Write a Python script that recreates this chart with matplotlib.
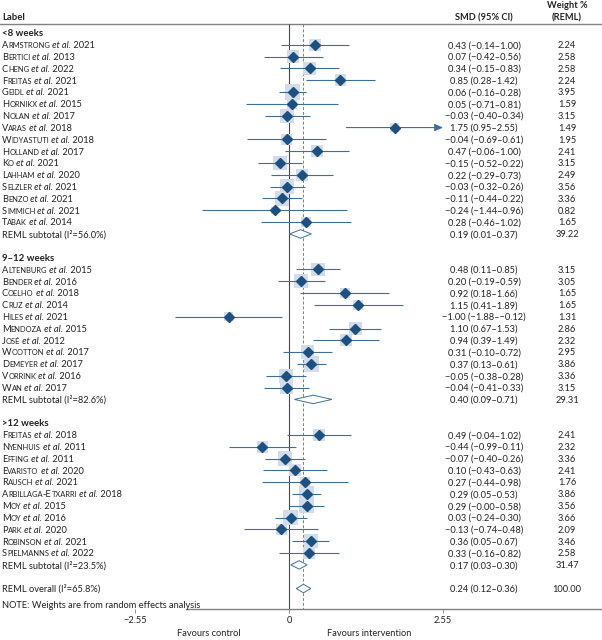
import matplotlib
matplotlib.use('Agg')
import matplotlib.pyplot as plt
from matplotlib.patches import Polygon

plt.rcParams['font.family'] = ['Lato', 'DejaVu Sans']

# ---------------- data ----------------
group_titles = ['<8 weeks', '9–12 weeks', '>12 weeks']

g1_authors = ['Armstrong', 'Bertici', 'Cheng', 'Freitas', 'Geidl', 'Hornikx', 'Nolan', 'Varas',
              'Widyastuti', 'Holland', 'Ko', 'Lahham', 'Selzler', 'Benzo', 'Simmich', 'Tabak']
g1_years = [2021, 2013, 2022, 2021, 2021, 2015, 2017, 2018, 2018, 2017, 2021, 2020, 2021, 2021, 2021, 2014]
g1_smd = [0.43, 0.07, 0.34, 0.85, 0.06, 0.05, -0.03, 1.75, -0.04, 0.47, -0.15, 0.22, -0.03, -0.11, -0.24, 0.28]
g1_lo = [-0.14, -0.42, -0.15, 0.28, -0.16, -0.71, -0.40, 0.95, -0.69, -0.06, -0.52, -0.29, -0.32, -0.44, -1.44, -0.46]
g1_hi = [1.00, 0.56, 0.83, 1.42, 0.28, 0.81, 0.34, 2.55, 0.61, 1.00, 0.22, 0.73, 0.26, 0.22, 0.96, 1.02]
g1_wt = [2.24, 2.58, 2.58, 2.24, 3.95, 1.59, 3.15, 1.49, 1.95, 2.41, 3.15, 2.49, 3.56, 3.36, 0.82, 1.65]

g2_authors = ['Altenburg', 'Bender', 'Coelho', 'Cruz', 'Hiles', 'Mendoza', 'José', 'Wootton',
              'Demeyer', 'Vorrink', 'Wan']
g2_years = [2015, 2016, 2018, 2014, 2021, 2015, 2012, 2017, 2017, 2016, 2017]
g2_smd = [0.48, 0.20, 0.92, 1.15, -1.00, 1.10, 0.94, 0.31, 0.37, -0.05, -0.04]
g2_lo = [0.11, -0.19, 0.18, 0.41, -1.88, 0.67, 0.39, -0.10, 0.13, -0.38, -0.41]
g2_hi = [0.85, 0.59, 1.66, 1.89, -0.12, 1.53, 1.49, 0.72, 0.61, 0.28, 0.33]
g2_wt = [3.15, 3.05, 1.65, 1.65, 1.31, 2.86, 2.32, 2.95, 3.86, 3.36, 3.15]

g3_authors = ['Freitas', 'Nyenhuis', 'Effing', 'Evaristo', 'Rausch', 'Arbillaga-Etxarri', 'Moy', 'Moy',
              'Park', 'Robinson', 'Spielmanns']
g3_years = [2018, 2011, 2011, 2020, 2021, 2018, 2015, 2016, 2020, 2021, 2022]
g3_smd = [0.49, -0.44, -0.07, 0.10, 0.27, 0.29, 0.29, 0.03, -0.13, 0.36, 0.33]
g3_lo = [-0.04, -0.99, -0.40, -0.43, -0.44, 0.05, -0.00, -0.24, -0.74, 0.05, -0.16]
g3_hi = [1.02, 0.11, 0.26, 0.63, 0.98, 0.53, 0.58, 0.30, 0.48, 0.67, 0.82]
g3_wt = [2.41, 2.32, 3.36, 2.41, 1.76, 3.86, 3.56, 3.66, 2.09, 3.46, 2.58]

sub_smd = [0.19, 0.40, 0.17]
sub_lo = [0.01, 0.09, 0.03]
sub_hi = [0.37, 0.71, 0.30]
sub_wt = [39.22, 29.31, 31.47]
sub_i2 = [56.0, 82.6, 23.5]

overall_smd = 0.24
overall_lo = 0.12
overall_hi = 0.36
overall_wt = 100.00
overall_i2 = 65.8

tick_values = [-2.55, 0, 2.55]
tick_labels = ['−2.55', '0', '2.55']
axis_max = 2.55

# ---------------- style / layout ----------------
W, H = 602, 640
FS = 6.7
TXT = '#222222'
SQ = '#d3dcea'
CI = '#3f6f99'
DM = '#1d4f7f'
GRID = '#808080'
RED = '#d0605e'

zero_px, ppu = 289.0, 60.4
row0_px, row_h = 33.0, 11.82

fig = plt.figure(figsize=(W / 100, H / 100), dpi=100)
ax = fig.add_axes([0, 0, 1, 1])
ax.set_xlim(-zero_px / ppu, (W - zero_px) / ppu)
ax.set_ylim((H - row0_px) / row_h, -row0_px / row_h)
for s in ['left', 'right', 'top']:
    ax.spines[s].set_visible(False)
ax.set_yticks([])
ax.patch.set_alpha(0)

ytr = ax.get_yaxis_transform()
LAB_X = 2 / W
SMD_X = 484 / W
WT_X = 567 / W
BL = 0.28  # baseline shift in rows


def fmt(v):
    return f'{v:.2f}'.replace('-', '−')


def smallcaps_pieces(name):
    pieces = []
    for ch in name:
        kind = 'small' if (ch.isalpha() and ch.islower()) else 'big'
        t = ch.upper() if kind == 'small' else ch
        if pieces and pieces[-1][1] == kind:
            pieces[-1][0] += t
        else:
            pieces.append([t, kind])
    return pieces


def draw_label(y, name, year):
    parts = [(p, FS if k == 'big' else FS * 0.8, 'normal') for p, k in smallcaps_pieces(name)]
    parts += [(' et al.', FS, 'italic'), (f' {year}', FS, 'normal')]
    prev = None
    for txt, size, style in parts:
        if prev is None:
            prev = ax.annotate(txt, xy=(LAB_X, y + BL), xycoords=ytr, ha='left', va='baseline',
                               fontsize=size, style=style, color=TXT)
        else:
            prev = ax.annotate(txt, xy=(1, y + BL), xycoords=(prev, ax.transData), ha='left',
                               va='baseline', fontsize=size, style=style, color=TXT)


def col_text(y, smd, lo, hi, wt):
    ax.text(SMD_X, y + BL, f'{fmt(smd)} ({fmt(lo)}–{fmt(hi)})', transform=ytr, ha='center',
            va='baseline', fontsize=FS, color=TXT)
    ax.text(WT_X, y + BL, f'{wt:.2f}', transform=ytr, ha='center', va='baseline',
            fontsize=FS, color=TXT)


def pooled_diamond(y, est, lo, hi):
    h = 0.36
    ax.add_patch(Polygon([(lo, y), (est, y - h), (hi, y), (est, y + h)], closed=True,
                         facecolor='white', edgecolor=CI, lw=0.7, zorder=4))


groups = [
    (g1_authors, g1_years, g1_smd, g1_lo, g1_hi, g1_wt),
    (g2_authors, g2_years, g2_smd, g2_lo, g2_hi, g2_wt),
    (g3_authors, g3_years, g3_smd, g3_lo, g3_hi, g3_wt),
]

row = 0
for gi, (auth, yrs, smd, lo, hi, wt) in enumerate(groups):
    ax.text(LAB_X, row + BL, group_titles[gi], transform=ytr, ha='left', va='baseline',
            fontsize=FS + 0.2, fontweight='bold', color=TXT)
    row += 1
    rows = list(range(row, row + len(auth)))
    for r, a, yv, s, l, h, w in zip(rows, auth, yrs, smd, lo, hi, wt):
        draw_label(r, a, yv)
        col_text(r, s, l, h, w)
        if h >= axis_max:
            ax.annotate('', xy=(h, r), xytext=(l, r), xycoords='data',
                        arrowprops=dict(arrowstyle='-|>,head_length=0.5,head_width=0.22',
                                        color=CI, lw=0.8, shrinkA=0, shrinkB=0), zorder=3)
        else:
            ax.hlines(r, l, h, color=CI, lw=0.8, zorder=3)
    ax.scatter(smd, rows, s=[31 * w for w in wt], marker='s', color=SQ, linewidths=0, zorder=2)
    ax.plot(smd, rows, linestyle='none', marker='D', ms=4.6, color=DM, zorder=5)
    row += len(auth)
    ax.text(LAB_X, row + BL, f'REML subtotal (I²={sub_i2[gi]:.1f}%)', transform=ytr, ha='left',
            va='baseline', fontsize=FS, color=TXT)
    col_text(row, sub_smd[gi], sub_lo[gi], sub_hi[gi], sub_wt[gi])
    pooled_diamond(row, sub_smd[gi], sub_lo[gi], sub_hi[gi])
    row += 2

# overall
ax.text(LAB_X, row + BL, f'REML overall (I²={overall_i2:.1f}%)', transform=ytr, ha='left',
        va='baseline', fontsize=FS, color=TXT)
col_text(row, overall_smd, overall_lo, overall_hi, overall_wt)
pooled_diamond(row, overall_smd, overall_lo, overall_hi)
ax.text(LAB_X, row + 1.4 + BL, 'NOTE: Weights are from random effects analysis', transform=ytr,
        ha='left', va='baseline', fontsize=FS, color=TXT)

# header
head_y = -1.35
ax.text(LAB_X, head_y + BL, 'Label', transform=ytr, ha='left', va='baseline', fontsize=FS + 0.2,
        fontweight='bold', color=TXT)
ax.text(SMD_X, head_y + BL, 'SMD (95% CI)', transform=ytr, ha='center', va='baseline',
        fontsize=FS, fontweight='bold', color=TXT)
ax.text(WT_X, head_y + BL, '(REML)', transform=ytr, ha='center', va='baseline',
        fontsize=FS, fontweight='bold', color=TXT)
ax.text(WT_X, -2.38 + BL, 'Weight %', transform=ytr, ha='center', va='baseline',
        fontsize=FS, fontweight='bold', color=TXT)

top_line = -0.76
axis_y = 48.7
ax.axhline(top_line, color=GRID, lw=1.0, zorder=1)
ax.vlines(0, top_line, axis_y, color='#4a4a4a', lw=0.8, zorder=1)
ax.vlines(overall_smd, top_line, axis_y, color=RED, lw=0.7, linestyles=(0, (3, 2)), zorder=1)

# x axis
ax.spines['bottom'].set_position(('data', axis_y))
ax.spines['bottom'].set_bounds(-1.70, (W - zero_px) / ppu)
ax.spines['bottom'].set_color(GRID)
ax.spines['bottom'].set_linewidth(1.0)
ax.set_xticks(tick_values)
ax.set_xticklabels(tick_labels)
ax.tick_params(axis='x', direction='out', length=3, width=0.6, color=GRID, labelsize=FS,
               labelcolor=TXT, pad=2)

ax.text(-1.33, 50.76 + BL, 'Favours control', ha='center', va='baseline', fontsize=FS, color=TXT)
ax.text(1.33, 50.76 + BL, 'Favours intervention', ha='center', va='baseline', fontsize=FS, color=TXT)

fig.savefig('out.png', dpi=100)
